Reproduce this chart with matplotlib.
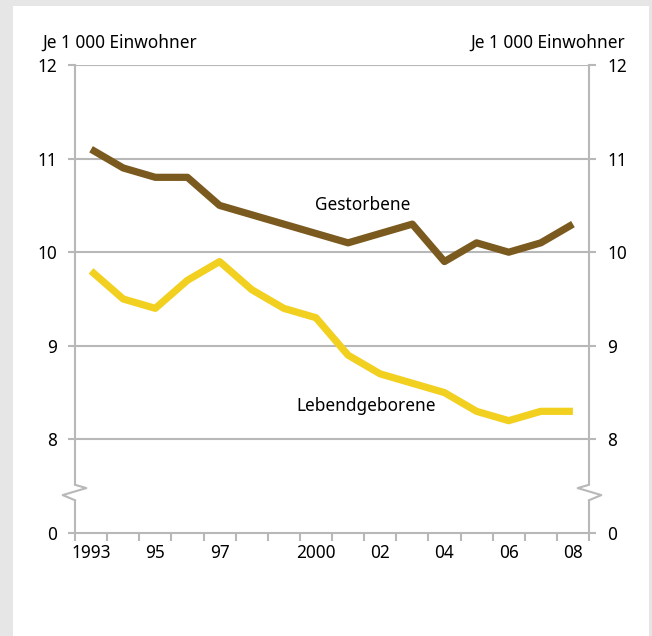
import numpy as np
import matplotlib
matplotlib.use("Agg")
import matplotlib.pyplot as plt
from matplotlib.patches import Rectangle
from matplotlib.lines import Line2D

# data
years = ["1993", "", "95", "", "97", "", "", "2000", "", "02", "", "04", "", "06", "", "08"]
gestorbene = [11.1, 10.9, 10.8, 10.8, 10.5, 10.4, 10.3, 10.2, 10.1, 10.2, 10.3, 9.9, 10.1, 10.0, 10.1, 10.3]
lebendgeborene = [9.8, 9.5, 9.4, 9.7, 9.9, 9.6, 9.4, 9.3, 8.9, 8.7, 8.6, 8.5, 8.3, 8.2, 8.3, 8.3]
yticks = [0, 8, 9, 10, 11, 12]

BROWN = "#7b5a1f"
YELLOW = "#f2d01f"
GRID = "#b8b8b8"
FS = 12.4
plt.rcParams['font.family'] = ['Noto Sans', 'DejaVu Sans']


# broken axis: 0..8 squeezed into one step
def fwd(v):
    v = np.asarray(v, dtype=float)
    return np.where(v >= 8, v - 7, v / 8)


def inv(u):
    u = np.asarray(u, dtype=float)
    return np.where(u >= 1, u + 7, u * 8)


fig = plt.figure(figsize=(6.52, 6.36), dpi=100)
fig.patch.set_facecolor("#e6e6e6")
fig.add_artist(Rectangle((13 / 652, 0), 636 / 652, 630 / 636, transform=fig.transFigure,
                         facecolor="white", edgecolor="none", zorder=0))

ax = fig.add_axes([75 / 652, 1 - 533 / 636, 514 / 652, 468 / 636])
ax.set_facecolor("none")
ax.set_yscale("function", functions=(fwd, inv))
x = np.arange(len(years))
ax.set_xlim(-0.5, len(years) - 0.5)
ax.set_ylim(0, 12)

for y in yticks[1:]:
    ax.axhline(y, color=GRID, lw=1.5, zorder=1)

ax.plot(x, gestorbene, color=BROWN, lw=5.2, solid_capstyle="butt", zorder=3)
ax.plot(x, lebendgeborene, color=YELLOW, lw=5.2, solid_capstyle="butt", zorder=3)

ax.text(8.47, 10.5, "Gestorbene", ha="center", va="center", fontsize=FS)
ax.text(8.56, 8.36, "Lebendgeborene", ha="center", va="center", fontsize=FS)

ax.spines["top"].set_visible(False)
for s in ["left", "right", "bottom"]:
    ax.spines[s].set_color(GRID)
    ax.spines[s].set_linewidth(1.5)

ax.set_yticks(yticks)
ax.set_yticklabels([str(t) for t in yticks])
ax.tick_params(axis="y", which="both", left=True, right=True, labelleft=True, labelright=True,
               length=5, width=1.5, color=GRID, labelsize=FS, pad=8)

ax.set_xticks(x)
ax.set_xticklabels(years)
ax.set_xticks(np.arange(-0.5, len(years)), minor=True)
ax.tick_params(axis="x", which="major", length=0, labelsize=FS, pad=8)
ax.tick_params(axis="x", which="minor", length=6, width=1.5, color=GRID)

# zigzag break on both y axes
for xa, sgn in [(0, 1), (1, -1)]:
    ax.add_artist(Rectangle((xa - 0.01, 0.07), 0.02, 0.033, transform=ax.transAxes,
                            facecolor="white", edgecolor="none", zorder=4, clip_on=False))
    ax.add_line(Line2D([xa, xa + sgn * 0.022, xa - sgn * 0.024, xa],
                       [0.103, 0.096, 0.081, 0.070],
                       transform=ax.transAxes, color=GRID, lw=1.5, zorder=5, clip_on=False))

fig.text(42 / 652, 1 - 48 / 636, "Je 1 000 Einwohner", ha="left", va="baseline", fontsize=FS)
fig.text(625 / 652, 1 - 48 / 636, "Je 1 000 Einwohner", ha="right", va="baseline", fontsize=FS)

fig.savefig("out.png", dpi=100)
